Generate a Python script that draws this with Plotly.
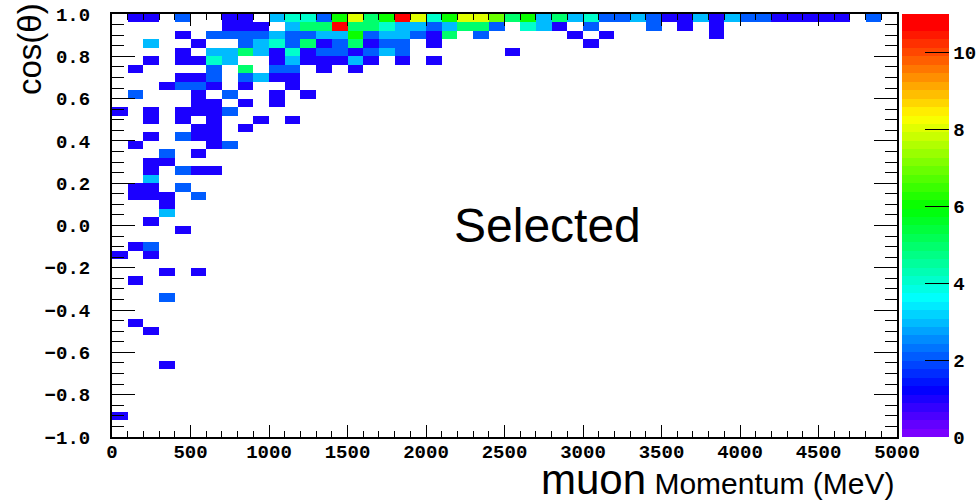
import colorsys
import plotly.graph_objects as go

# 2D histogram: 50 momentum bins (0-5000 MeV, 100 MeV wide) x 50 cos(theta) bins (-1..1, 0.04 wide)
n_mom_bins = 50
n_cos_bins = 50
mom_lo, mom_hi = 0.0, 5000.0
cos_lo, cos_hi = -1.0, 1.0

# Bin contents, one string per cos(theta) bin from the top (0.96-1.00) downwards.
# Character i is the momentum bin i: '.' = empty, digits = counts, 'a' = 10, 'b' = 11.
# Rows shorter than 50 characters are empty beyond their last character.
count_rows = [
    ".11.2..11.34426856b8468875635342232113132211111.2.",
    ".......111.355b5543323552.431.2...2.1.1.",
    "....1.2222322336233215.2.....1.1......1.",
    "..3..1..23425125122.1.........1",
    "....1.3353141221232......1",
    "..1.1143..1311131.1.1",
    ".1....2.5.22.1.1",
    "....112.2311",
    "...1221.1..1",
    ".2...1.2..1.1",
    ".....11.1.1",
    "1.1.1112",
    "..1.1.1..1.1",
    ".....11.1",
    "..1.211",
    ".1....12",
    "...2.1",
    "..11",
    "..1.211",
    "..3",
    ".11.2",
    ".111.2",
    "...1",
    "...3",
    "..1",
    "....1",
    "",
    ".12",
    "1.1",
    "",
    "...1.1",
    ".1",
    "",
    "...2",
    "",
    "",
    ".1",
    "..1",
    "",
    "",
    "",
    "...1",
    "",
    "",
    "",
    "",
    "",
    "1",
    "",
    "",
]

z_min, z_max = 0, 11
mom_ticks = [0, 500, 1000, 1500, 2000, 2500, 3000, 3500, 4000, 4500, 5000]
cos_ticks = [-1.0, -0.8, -0.6, -0.4, -0.2, 0.0, 0.2, 0.4, 0.6, 0.8, 1.0]
z_ticks = [0, 2, 4, 6, 8, 10]

mom_width = (mom_hi - mom_lo) / n_mom_bins
cos_width = (cos_hi - cos_lo) / n_cos_bins
mom_centers = [mom_lo + (i + 0.5) * mom_width for i in range(n_mom_bins)]
cos_centers = [cos_lo + (j + 0.5) * cos_width for j in range(n_cos_bins)]

symbol_value = {str(d): d for d in range(10)}
symbol_value.update({"a": 10, "b": 11})

# z[j][i]: j counts upward from cos = -1, so the top-down rows are reversed.
z = []
for row in reversed(count_rows):
    row = row.ljust(n_mom_bins, ".")
    z.append([symbol_value[c] if c != "." else None for c in row])

# Violet -> red rainbow palette: 50 HLS hues at fixed lightness/saturation, drawn as steps
n_colors = 50
palette = []
for i in range(n_colors):
    hue = max(0.0, 280.0 - (i + 2) * 280.0 / n_colors)
    r, g, b = colorsys.hls_to_rgb(hue / 360.0, 0.5, 1.0)
    palette.append(f"rgb({round(r * 255)},{round(g * 255)},{round(b * 255)})")
colorscale = []
for i, c in enumerate(palette):
    colorscale.append([i / n_colors, c])
    colorscale.append([(i + 1) / n_colors, c])

tick_font = dict(family="Liberation Mono, Courier New, monospace", size=19,
                 color="black", weight="bold")
title_family = "Liberation Sans, Arial, sans-serif"

# Plot area geometry in pixels
W, H = 980, 503
ML, MR, MT, MB = 112, 83, 14, 66
PW = W - ML - MR
PH = H - MT - MB

fig = go.Figure(
    go.Heatmap(
        x=mom_centers,
        y=cos_centers,
        z=z,
        zmin=z_min,
        zmax=z_max,
        colorscale=colorscale,
        zsmooth=False,
        hoverongaps=False,
        colorbar=dict(
            x=1.0 + 5.0 / PW, xanchor="left", xpad=0,
            y=0, yanchor="bottom", ypad=0,
            len=1, lenmode="fraction",
            thickness=47, thicknessmode="pixels",
            outlinewidth=0,
            ticks="inside", ticklen=24, tickwidth=1, tickcolor="black",
            tickmode="array", tickvals=z_ticks,
            tickfont=tick_font,
        ),
    )
)

fig.update_layout(
    width=W,
    height=H,
    margin=dict(l=ML, r=MR, t=MT, b=MB, pad=0, autoexpand=False),
    paper_bgcolor="white",
    plot_bgcolor="white",
    showlegend=False,
    xaxis=dict(
        range=[mom_lo, mom_hi],
        tickmode="array", tickvals=mom_ticks,
        ticks="inside", ticklen=12, tickwidth=1, tickcolor="black",
        showline=True, linecolor="black", linewidth=2, mirror="allticks",
        showgrid=False, zeroline=False,
        minor=dict(ticks="inside", dtick=100, tick0=0, ticklen=6,
                   tickwidth=1, tickcolor="black", showgrid=False),
        tickfont=tick_font,
        ticklabelstandoff=-4,
    ),
    yaxis=dict(
        range=[cos_lo, cos_hi],
        tickmode="array", tickvals=cos_ticks, tickformat=".1f",
        ticks="inside", ticklen=23, tickwidth=1, tickcolor="black",
        showline=True, linecolor="black", linewidth=2, mirror="allticks",
        showgrid=False, zeroline=False,
        minor=dict(ticks="inside", dtick=0.05, tick0=0, ticklen=12,
                   tickwidth=1, tickcolor="black", showgrid=False),
        tickfont=tick_font,
        ticklabelstandoff=16,
    ),
    annotations=[
        dict(
            text="Selected",
            xref="paper", yref="paper",
            x=(452 - ML) / PW, xanchor="left",
            y=(H - MB - 225) / PH, yanchor="middle",
            showarrow=False,
            font=dict(family=title_family, size=48, color="black"),
        ),
        dict(
            text="<span style='font-size:42px'>muon</span> Momentum (MeV)",
            xref="paper", yref="paper",
            x=(896 - ML) / PW, xanchor="right",
            y=-(505 - (H - MB)) / PH, yanchor="bottom",
            showarrow=False,
            font=dict(family=title_family, size=30, color="black"),
        ),
        dict(
            text="cos(θ)",
            textangle=-90,
            xref="paper", yref="paper",
            x=(29 - ML) / PW, xanchor="center",
            y=(H - MB - 1) / PH, yanchor="top",
            showarrow=False,
            font=dict(family=title_family, size=33, color="black"),
        ),
    ],
)

fig.write_html("out.html")
